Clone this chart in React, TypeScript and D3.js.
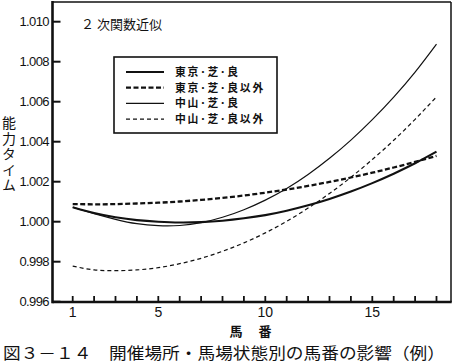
import React from "react";
import * as d3 from "d3";

const horseNumbers = [1, 2, 3, 4, 5, 6, 7, 8, 9, 10, 11, 12, 13, 14, 15, 16, 17, 18];
const tokyoGood = [1.00072, 1.00043, 1.00022, 1.00008, 1.0, 0.99996, 0.99998, 1.00005, 1.00017, 1.00033, 1.00055, 1.00082, 1.00114, 1.00151, 1.00193, 1.0024, 1.00292, 1.0035];
const tokyoOther = [1.00088, 1.00087, 1.00088, 1.00091, 1.00095, 1.00101, 1.00109, 1.00119, 1.00131, 1.00145, 1.00161, 1.00179, 1.00199, 1.00221, 1.00245, 1.00271, 1.00299, 1.00329];
const nakayamaGood = [1.00072, 1.0004, 1.00012, 0.9999, 0.9998, 0.99981, 0.99995, 1.00022, 1.0006, 1.00108, 1.00166, 1.00236, 1.00317, 1.00408, 1.0051, 1.00623, 1.00748, 1.00888];
const nakayamaOther = [0.99778, 0.99759, 0.99755, 0.99759, 0.9977, 0.9979, 0.99817, 0.99852, 0.99894, 0.99944, 1.00002, 1.00068, 1.00141, 1.00222, 1.00311, 1.00407, 1.00512, 1.00624];
const seriesNames = ["東京･芝･良", "東京･芝･良以外", "中山･芝･良", "中山･芝･良以外"];
const yTicks = [0.996, 0.998, 1.0, 1.002, 1.004, 1.006, 1.008, 1.01];
const xLabelTicks = [1, 5, 10, 15];

const JP = "'Noto Sans CJK JP', 'Noto Sans', sans-serif";
const NUM = "'Liberation Sans', Arial, sans-serif";

export default function App() {
  const x = d3.scaleLinear().domain([1, 18]).range([72.7, 436.5]);
  const y = d3.scaleLinear().domain([1.0, 1.01]).range([221.7, 21.7]);
  const line = d3
    .line<number>()
    .x((_, i) => x(horseNumbers[i]))
    .y((d) => y(d))
    .curve(d3.curveNatural);

  const styles = [
    { data: tokyoGood, w: 2.1, dash: "" },
    { data: tokyoOther, w: 2.3, dash: "5,2.5" },
    { data: nakayamaGood, w: 1.2, dash: "" },
    { data: nakayamaOther, w: 1.2, dash: "4,3" },
  ];

  const left = 52.5;
  const right = 451;
  const top = 2;
  const bottom = 302;

  return (
    <svg
      width={453}
      height={364}
      style={{ position: "absolute", left: 0, top: 0, background: "#fff" }}
    >
      <rect x={0} y={0} width={453} height={364} fill="#fff" />
      {/* frame */}
      <line x1={left} y1={top} x2={right} y2={top} stroke="#111" strokeWidth={1.5} />
      <line x1={right} y1={top} x2={right} y2={bottom} stroke="#111" strokeWidth={1.5} />
      <line x1={left} y1={top - 1} x2={left} y2={bottom + 1.2} stroke="#111" strokeWidth={2.6} />
      <line x1={left} y1={bottom} x2={right + 0.7} y2={bottom} stroke="#111" strokeWidth={2.4} />

      {/* y ticks */}
      {yTicks.map((t) => (
        <g key={t}>
          <line x1={left} x2={left + 8} y1={y(t)} y2={y(t)} stroke="#111" strokeWidth={2} />
          <text
            x={49}
            y={y(t) + 4.5}
            textAnchor="end"
            fontFamily={NUM}
            fontSize={13}
            letterSpacing={-0.6}
            fill="#111"
          >
            {d3.format(".3f")(t)}
          </text>
        </g>
      ))}

      {/* x ticks */}
      {horseNumbers.map((n) => (
        <line key={n} x1={x(n)} x2={x(n)} y1={bottom} y2={bottom - 6} stroke="#111" strokeWidth={1.8} />
      ))}
      {xLabelTicks.map((n) => (
        <text key={n} x={x(n)} y={316.5} textAnchor="middle" fontFamily={NUM} fontSize={14} fill="#111">
          {n}
        </text>
      ))}

      {/* axis titles */}
      <text x={236} y={335.5} textAnchor="middle" fontFamily={JP} fontSize={13} fontWeight="bold" fill="#111">馬</text>
      <text x={265} y={335.5} textAnchor="middle" fontFamily={JP} fontSize={13} fontWeight="bold" fill="#111">番</text>
      <text
        x={9}
        y={116}
        fontFamily={JP}
        fontSize={14}
        fill="#111"
        letterSpacing={1.5}
        style={{ writingMode: "vertical-rl", textOrientation: "upright" }}
      >
        能力タイム
      </text>

      {/* title */}
      <text x={81} y={29} fontFamily={JP} fontSize={13} fill="#111">２ 次関数近似</text>

      {/* curves */}
      {styles.map((s, i) => (
        <path
          key={i}
          d={line(s.data) || ""}
          fill="none"
          stroke="#111"
          strokeWidth={s.w}
          strokeDasharray={s.dash || undefined}
        />
      ))}

      {/* legend */}
      <rect x={114} y={57} width={163} height={76} fill="#fff" stroke="#111" strokeWidth={1.6} />
      {seriesNames.map((name, i) => {
        const ly = 72 + i * 15.7;
        return (
          <g key={name}>
            <line
              x1={126}
              x2={164}
              y1={ly}
              y2={ly}
              stroke="#111"
              strokeWidth={styles[i].w}
              strokeDasharray={styles[i].dash || undefined}
            />
            <text
              x={175}
              y={ly + 4}
              fontFamily={JP}
              fontSize={10.8}
              letterSpacing={1.8}
              fontWeight="bold"
              fill="#111"
            >
              {name}
            </text>
          </g>
        );
      })}

      {/* caption */}
      <text x={3} y={359} fontFamily={JP} fontSize={16} fill="#111" textLength={442} lengthAdjust="spacingAndGlyphs">
        図３－１４　開催場所・馬場状態別の馬番の影響（例）
      </text>
    </svg>
  );
}
